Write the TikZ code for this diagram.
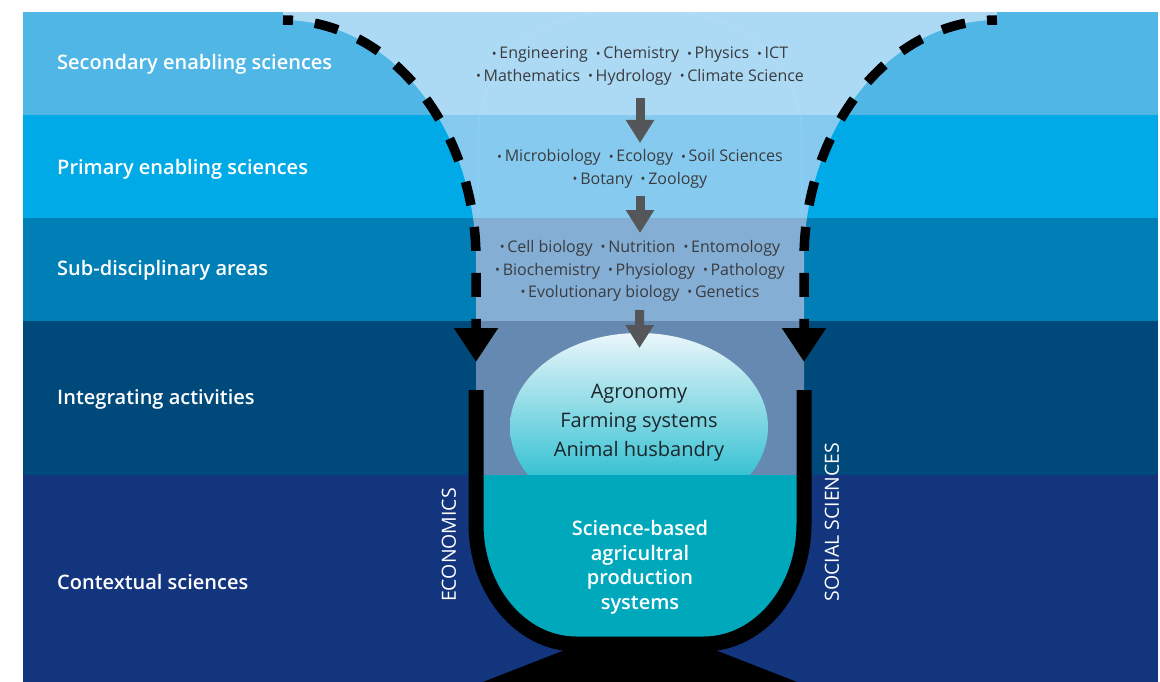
\documentclass[tikz,border=0pt]{standalone}
\usepackage{fontspec}
\IfFontExistsTF{Open Sans SemiBold}{%
  \setmainfont{Open Sans}[BoldFont={Open Sans SemiBold}]}{%
  \IfFontExistsTF{Open Sans Semibold}{%
    \setmainfont{Open Sans}[BoldFont={Open Sans Semibold}]}{%
    \setmainfont{Open Sans}}}
\usepackage{tikz}
\usetikzlibrary{positioning, arrows.meta}

% band colours, outside and inside the funnel
\definecolor{secout}{HTML}{4FB6E6}
\definecolor{secin}{HTML}{ACD9F3}
\definecolor{primout}{HTML}{00AAE6}
\definecolor{primin}{HTML}{86CBEF}
\definecolor{subout}{HTML}{007FB7}
\definecolor{subin}{HTML}{84AED4}
\definecolor{intout}{HTML}{004A7B}
\definecolor{intin}{HTML}{6589B0}
\definecolor{ctxout}{HTML}{13357E}
\definecolor{cupteal}{HTML}{00A8BC}
\definecolor{eggtop}{HTML}{EAF6FA}
\definecolor{eggbot}{HTML}{00B2C6}
\definecolor{arrowgray}{HTML}{54565A}
\definecolor{listgray}{HTML}{3A3C40}
\definecolor{darktext}{HTML}{1C262C}

\newcommand{\itm}{{\fontsize{13}{13}\selectfont\raisebox{.1ex}{\textbullet}}\,}

\begin{document}
\begin{tikzpicture}[x=1pt,y=-1pt,
    lbl/.style={anchor=west, inner sep=0pt, text=white, font=\bfseries\fontsize{20}{24}\selectfont},
    lst/.style={align=center, text=listgray, inner sep=0pt, font=\fontsize{16}{22.5}\selectfont},
    grayarrow/.style={draw=arrowgray, line width=9pt, -{Triangle[width=27pt,length=23pt]}},
    blackarrow/.style={line width=9.5pt, dash pattern=on 24pt off 22pt, dash phase=14pt,
        -{Triangle[width=42pt,length=34pt]}},
    side/.style={text=white, rotate=90, font=\fontsize{19.5}{22}\selectfont}]
    \useasboundingbox (0,0) rectangle (1160,682);

    % the five bands
    \fill[secout]  (23,12)  rectangle (1158,115);
    \fill[primout] (23,115) rectangle (1158,218);
    \fill[subout]  (23,218) rectangle (1158,321);
    \fill[intout]  (23,321) rectangle (1158,475);
    \fill[ctxout]  (23,475) rectangle (1158,682);

    % lighter funnel down the middle
    \begin{scope}
        \clip (283,0) -- (283,20) .. controls (389.6,20) and (476,127.4) .. (476,260)
            -- (476,475) -- (804,475) -- (804,260)
            .. controls (804,127.4) and (890.4,20) .. (997,20) -- (997,0) -- cycle;
        \fill[secin]  (23,12)  rectangle (1158,115);
        \fill[primin] (23,115) rectangle (1158,218);
        \fill[subin]  (23,218) rectangle (1158,321);
        \fill[intin]  (23,321) rectangle (1158,475);
    \end{scope}
    \draw[white, opacity=.15, line width=.6pt, rounded corners=125pt]
        (478,218) |- (640,13) -| (802,218);

    % integrating egg and the cup
    \shade[top color=eggtop, bottom color=eggbot] (639,427) ellipse [x radius=129, y radius=94];
    \coordinate (lwall) at (476,390);
    \coordinate (rwall) at (804,390);
    \begin{scope}
        \clip (23,475) rectangle (1158,682);
        \fill[cupteal] (476,300) -- (476,524) .. controls (476,590.3) and (520.8,644) .. (576,644)
            -- (704,644) .. controls (759.2,644) and (804,590.3) .. (804,524) -- (804,300) -- cycle;
    \end{scope}
    \draw[line width=15pt] (lwall) -- (476,524) .. controls (476,590.3) and (520.8,644) .. (576,644)
        -- (704,644) .. controls (759.2,644) and (804,590.3) .. (804,524) -- (rwall);
    \fill (570,648) -- (710,648) -- (797,682) -- (483,682) -- cycle;

    % dashed funnel arrows
    \coordinate (ltop) at (283,20);
    \coordinate (rtop) at (997,20);
    \coordinate (ltip) at (476,362);
    \coordinate (rtip) at (804,362);
    \draw[blackarrow] (ltop) .. controls (389.6,20) and (476,127.4) .. (476,260) -- (ltip);
    \draw[blackarrow] (rtop) .. controls (890.4,20) and (804,127.4) .. (804,260) -- (rtip);

    % band names
    \node[lbl] (secondary) at (57,64)  {Secondary enabling sciences};
    \node[lbl] (primary)   at (57,169) {Primary enabling sciences};
    \node[lbl] (subdisc)   at (57,270) {Sub-disciplinary areas};
    \node[lbl] (integr)    at (57,399) {Integrating activities};
    \node[lbl] (context)   at (57,582) {Contextual sciences};

    % what sits in each band
    \node[lst] (sec) at (640,66)
        {\itm Engineering\enspace\itm Chemistry\enspace\itm Physics\enspace\itm ICT\\
         \itm Mathematics\enspace\itm Hydrology\enspace\itm Climate Science};
    \node[lst] (prim) at (640,169)
        {\itm Microbiology\enspace\itm Ecology\enspace\itm Soil Sciences\\
         \itm Botany\enspace\itm Zoology};
    \node[lst] (sub) at (640,271)
        {\itm Cell biology\enspace\itm Nutrition\enspace\itm Entomology\\
         \itm Biochemistry\enspace\itm Physiology\enspace\itm Pathology\\
         \itm Evolutionary biology\enspace\itm Genetics};
    \node[align=center, text=darktext, font=\fontsize{20}{29}\selectfont] (agro) at (639,423)
        {Agronomy\\Farming systems\\Animal husbandry};
    \node[align=center, text=white, font=\bfseries\fontsize{20}{24.5}\selectfont] (cup) at (640,567.5)
        {Science-based\\agricultral\\production\\systems};

    \draw[grayarrow, shorten <=32pt, shorten >=26pt] (sec.center) -- (prim.center);
    \draw[grayarrow, shorten <=27pt, shorten >=38pt] (prim.center) -- (sub.center);
    \draw[grayarrow, shorten <=39pt, shorten >=75pt] (sub.center) -- (agro.center);

    % the two sides of the cup
    \node[side] (econ) at (449,545) {ECONOMICS};
    \node[side] (social) at (832,522) {SOCIAL SCIENCES};
\end{tikzpicture}
\end{document}
